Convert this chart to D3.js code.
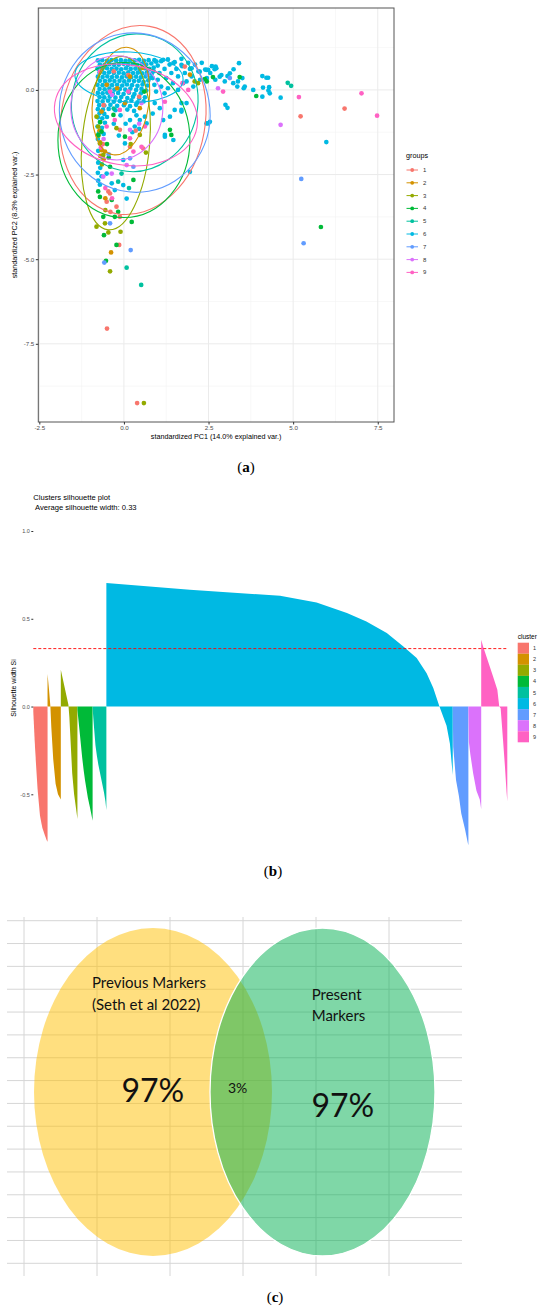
<!DOCTYPE html>
<html>
<head>
<meta charset="utf-8">
<script src="https://cdn.jsdelivr.net/npm/d3@7"></script>
<style>
body { margin: 0; background: #fff; }
svg { display: block; }
</style>
</head>
<body>
<div id="chart"></div>
<script>
// ---- data: (a) PCA biplot ----
var group_labels = ["1", "2", "3", "4", "5", "6", "7", "8", "9"];
var group_colors = ["#F8766D", "#D39200", "#93AA00", "#00BA38", "#00C19F", "#00B9E3", "#619CFF", "#DB72FB", "#FF61C3"];

var pc1_ticks = [-2.5, 0, 2.5, 5, 7.5];
var pc2_ticks = [0, -2.5, -5, -7.5];
var pc1_minor = [-1.25, 1.25, 3.75, 6.25];
var pc2_minor = [1.25, -1.25, -3.75, -6.25, -8.75];

// scores [PC1, PC2], one list per group
var scores_1 = [[0.13,0.44],[-0.12,-1.18],[0.18,-1.68],[0.57,-1.73],[-0.46,-3.0],[-0.41,-3.06],[-0.51,-3.3],[-0.22,-3.45],
    [-0.12,-3.75],[1.80,0.69],[5.22,-0.78],[6.52,-0.55],[-0.14,-4.58],[-0.50,-7.05],[0.39,-9.25],[-0.60,-0.45],
    [-0.30,0.55],[0.45,-0.2],[-0.62,-1.6],[-0.40,-3.6],[0.35,-1.2]];
var scores_2 = [[-0.51,0.15],[-0.66,-0.64],[-0.66,-1.78],[-0.56,-1.82],[0.03,-0.39],[0.47,-0.54],[0.18,0.39],[-0.38,-4.8],
    [-0.70,-1.95],[-0.60,-2.05],[-0.72,-1.2],[0.55,0.65],[1.95,0.45],[-0.20,0.05],[-0.70,-1.55],[-0.55,-3.2]];
var scores_3 = [[-0.81,-0.79],[-0.76,-1.08],[-0.71,-1.58],[-0.61,-1.92],[-0.22,-1.13],[0.47,-1.33],[-0.81,-4.04],
    [-0.46,-4.21],[-0.10,-4.19],[-0.56,-3.94],[-0.41,-5.36],[0.59,-9.25],[2.09,0.25],[2.19,0.20],[-0.65,-2.2],
    [-0.75,-1.35],[0.20,-1.6],[0.65,-1.85],[-0.55,-3.55]];
var scores_4 = [[-0.76,-1.33],[-0.66,-1.23],[-0.31,-0.74],[0.03,-1.38],[1.36,-1.18],[1.40,-1.33],[-0.41,-2.27],[-0.76,-3.0],
    [-0.71,-3.16],[-0.36,-3.25],[-0.17,-3.6],[-0.61,-3.75],[0.23,-3.9],[-0.27,-3.75],[-0.59,-4.29],[-0.22,-4.58],
    [-0.53,-5.05],[5.82,-4.05],[3.42,0.38],[2.39,0.32],[2.45,0.25],[2.63,0.38],[3.91,-0.18],[-0.70,-0.95],
    [-0.50,-1.60],[0.60,-0.05],[-0.45,-2.0],[0.28,-2.66]];
var scores_5 = [[-0.17,-2.71],[-0.07,-2.47],[0.08,-5.25],[0.51,-5.76],[4.84,0.21],[4.94,0.12],[0.15,-2.9],[-0.30,-0.55]];
var scores_6 = [
    [-0.77,0.87],[-0.64,0.88],[-0.50,0.86],[-0.37,0.88],[-0.23,0.87],[-0.09,0.88],[0.05,0.86],[0.18,0.88],[0.32,0.87],[0.45,0.89],[0.59,0.86],[0.73,0.88],
    [-0.71,0.75],[-0.57,0.74],[-0.43,0.76],[-0.29,0.74],[-0.15,0.75],[-0.01,0.77],[0.12,0.74],[0.26,0.76],[0.39,0.74],[0.53,0.77],[0.66,0.75],[0.81,0.78],[0.94,0.84],
    [-0.78,0.63],[-0.64,0.62],[-0.50,0.64],[-0.36,0.62],[-0.22,0.63],[-0.08,0.61],[0.06,0.64],[0.20,0.62],[0.34,0.63],[0.47,0.61],[0.61,0.64],[0.75,0.62],[0.88,0.66],
    [-0.72,0.51],[-0.58,0.50],[-0.44,0.52],[-0.30,0.50],[-0.15,0.51],[-0.01,0.49],[0.13,0.52],[0.27,0.50],[0.41,0.51],[0.54,0.49],[0.68,0.52],[0.82,0.48],
    [-0.77,0.39],[-0.63,0.38],[-0.49,0.40],[-0.35,0.38],[-0.21,0.39],[-0.06,0.37],[0.08,0.40],[0.22,0.38],[0.36,0.39],[0.50,0.37],[0.64,0.40],[0.79,0.36],
    [-0.71,0.27],[-0.56,0.26],[-0.42,0.28],[-0.28,0.26],[-0.13,0.27],[0.01,0.25],[0.15,0.28],[0.30,0.26],[0.44,0.27],[0.58,0.24],[0.72,0.28],
    [-0.78,0.15],[-0.63,0.14],[-0.49,0.16],[-0.35,0.14],[-0.20,0.15],[-0.05,0.13],[0.09,0.16],[0.24,0.14],[0.40,0.12],[0.55,0.16],[0.70,0.13],
    [-0.72,0.03],[-0.57,0.02],[-0.43,0.04],[-0.28,0.01],[-0.12,0.03],[0.04,0.01],[0.19,0.04],[0.36,0.0],[0.52,0.03],[0.66,-0.02],
    [-0.77,-0.09],[-0.63,-0.10],[-0.49,-0.08],[-0.33,-0.11],[-0.17,-0.09],[-0.01,-0.12],[0.15,-0.08],[0.31,-0.12],[0.50,-0.10],
    [-0.72,-0.21],[-0.58,-0.22],[-0.42,-0.20],[-0.25,-0.23],[-0.08,-0.21],[0.10,-0.24],[0.27,-0.20],[0.45,-0.25],[0.62,-0.22],
    [-0.78,-0.33],[-0.63,-0.34],[-0.47,-0.32],[-0.30,-0.35],[-0.12,-0.33],[0.05,-0.36],[0.22,-0.31],[0.40,-0.37],[0.58,-0.34],
    [-0.73,-0.45],[-0.58,-0.46],[-0.40,-0.44],[-0.20,-0.47],[0.0,-0.45],[0.18,-0.48],[0.36,-0.44],
    [-0.77,-0.57],[-0.62,-0.58],[-0.45,-0.56],[-0.25,-0.60],[0.10,-0.58],[0.30,-0.62],
    [-0.72,-0.69],[-0.58,-0.71],[-0.77,-0.81],[-0.64,-0.84],[-0.50,-0.80],[-0.71,-0.95],[-0.56,-0.97],[-0.78,-1.08],
    [-0.65,-1.12],[-0.73,-1.26],[-0.60,-1.30],[-0.77,-1.45],[-0.68,-1.62],[-0.76,-1.80],[-0.64,-1.98],[-0.76,-2.15],
    [-0.70,-2.30],[-0.77,-2.45],[-0.66,-2.55],[-0.76,-2.68],[-0.71,-2.80],
    [0.18,-0.89],[0.32,-1.08],[0.47,-0.89],[0.67,-0.99],[0.62,-0.79],[0.37,-0.75],[0.85,-0.70],[1.16,-0.89],[1.36,-0.79],
    [1.21,-1.33],[1.50,-0.59],[1.70,-0.59],[1.85,-0.39],[1.95,-2.42],[2.44,-0.99],[2.54,-0.94],[0.91,-0.39],[1.06,-0.54],
    [0.03,-1.58],[-0.02,-2.07],[-0.51,-2.47],[-0.36,-2.76],[-0.02,-2.81],[-0.27,-2.96],[0.08,-3.21],[1.21,-1.38],
    [1.46,-1.48],[1.70,-0.39],[1.70,-0.64],[-0.10,-0.75],[0.05,-1.0],[0.25,-1.25],[0.45,-1.15],[-0.30,-1.0],[-0.15,-1.35],
    [0.90,0.88],[1.00,0.72],[1.05,0.50],[1.10,0.85],[1.20,0.62],[1.25,0.35],[1.30,0.90],[1.35,0.75],[1.40,0.50],[1.45,0.20],
    [1.50,0.82],[1.55,0.62],[1.60,0.40],[1.70,0.92],[1.72,0.70],[1.80,0.50],[1.85,0.25],[1.90,0.80],[1.95,0.62],[2.00,0.40],
    [2.05,0.10],[2.10,0.75],[2.20,0.55],[2.25,0.30],[2.30,0.80],[2.40,0.60],[2.45,0.35],[2.55,0.50],[2.60,0.70],[2.70,0.30],
    [0.85,0.35],[0.90,0.15],[0.95,-0.05],[1.10,0.10],[1.20,-0.10],[0.88,0.55],[1.00,0.30],[1.30,0.05],[1.60,0.00],[1.75,0.20],
    [0.96,0.84],[1.16,0.89],[1.46,0.79],[1.70,0.74],[2.00,0.64],[2.24,0.54],[2.49,0.59],[2.73,0.64],[2.83,0.39],[3.13,0.49],
    [3.23,0.20],[3.57,0.10],[3.82,0.0],
    [2.71,0.69],[2.68,0.61],[2.44,0.59],[3.40,0.79],[3.24,0.61],[2.88,0.44],[3.06,0.41],[2.98,0.25],[3.37,0.25],[3.50,0.35],
    [3.54,0.05],[3.35,0.10],[3.00,-0.44],[3.06,-0.53],[2.49,-0.99],[4.09,0.41],[4.21,0.36],[4.26,0.36],[4.11,0.07],
    [4.27,-0.02],[4.31,-0.10],[4.29,0.08],[4.09,-0.20],[4.63,-0.23],[5.98,-1.54]];
var scores_7 = [[-0.41,-3.94],[0.18,-2.02],[0.28,-2.27],[0.20,-4.73],[-0.58,-5.10],[5.24,-2.63],[5.31,-4.53],[3.13,0.35],
    [-0.45,-1.9],[0.70,0.45]];
var scores_8 = [[0.18,-1.18],[0.52,-0.39],[-0.61,-2.56],[-0.36,-2.47],[0.08,-2.22],[4.63,-1.03],[2.78,0.05],[-0.35,-0.15],
    [-0.60,-1.45],[0.45,-1.0]];
var scores_9 = [[-0.71,0.54],[-0.41,-0.05],[0.13,-0.05],[-0.12,-0.59],[-0.27,-0.89],[0.18,-1.43],[0.28,-1.82],[0.52,-1.68],
    [0.62,-1.08],[1.21,-0.35],[-0.51,-1.08],[5.17,-0.21],[7.02,-0.10],[7.48,-0.76],[1.90,0.0],[1.73,0.20],[2.93,-0.05],
    [-0.68,-1.7],[-0.35,-3.2],[-0.55,-2.9]];
var group_scores = [scores_1, scores_2, scores_3, scores_4, scores_5, scores_6, scores_7, scores_8, scores_9];

// normal ellipses per group: [centre PC1, centre PC2, semi-axis PC1, semi-axis PC2, tilt in degrees]
var group_ellipses = [
    [0.27, -0.89, 2.13, 2.81, 10],
    [-0.09, -0.33, 0.83, 1.60, 8],
    [-0.24, -1.57, 1.00, 2.57, 5],
    [0.00, -1.48, 1.95, 2.29, 0],
    [0.32, -0.38, 1.86, 2.04, 12],
    [0.15, 0.38, 1.60, 0.74, 3],
    [0.32, -0.67, 2.22, 2.36, -10],
    [-0.21, -0.53, 1.36, 1.54, 0],
    [0.06, -0.74, 2.13, 1.48, 10]
];

// ---- data: (b) silhouette ----
var cluster_sizes = [30, 28, 35, 32, 29, 730, 33, 27, 55];
// sorted silhouette widths within each cluster: [rank, width]
var sil_1 = [[0,-0.03],[3,-0.2],[6,-0.34],[9,-0.47],[14,-0.62],[19,-0.69],[24,-0.73],[28,-0.76],[30,-0.77]];
var sil_2 = [[0,0.185],[3,0.1],[6,0.0],[8,-0.12],[12,-0.3],[17,-0.44],[22,-0.5],[28,-0.53]];
var sil_3 = [[0,0.21],[4,0.16],[8,0.11],[12,0.06],[16,0.01],[18,-0.06],[21,-0.22],[24,-0.38],[28,-0.5],[32,-0.58],[35,-0.64]];
var sil_4 = [[0,-0.02],[3,-0.1],[6,-0.18],[10,-0.29],[13,-0.36],[16,-0.42],[19,-0.47],[22,-0.52],[26,-0.57],[29,-0.61],[32,-0.65]];
var sil_5 = [[0,-0.01],[3,-0.12],[6,-0.22],[9,-0.28],[12,-0.33],[15,-0.37],[18,-0.41],[21,-0.45],[24,-0.49],[27,-0.54],[29,-0.59]];
var sil_6 = [[0,0.704],[176,0.666],[366,0.631],[443,0.593],[507,0.533],[548,0.485],[591,0.419],[626,0.342],[654,0.276],
    [675,0.19],[689,0.105],[702,0],[717,-0.11],[724,-0.21],[730,-0.39]];
var sil_7 = [[0,0.01],[1,-0.23],[7,-0.42],[13,-0.51],[18,-0.61],[26,-0.70],[32,-0.78],[33,-0.79]];
var sil_8 = [[0,-0.02],[1,-0.2],[4,-0.27],[10,-0.38],[17,-0.48],[24,-0.53],[27,-0.585]];
var sil_9 = [[0,0.38],[4,0.342],[11,0.285],[25,0.171],[34,0.095],[38,0.0],[41,-0.01],[46,-0.19],[50,-0.34],[53.5,-0.49],[55,-0.54]];
var sil_profiles = [sil_1, sil_2, sil_3, sil_4, sil_5, sil_6, sil_7, sil_8, sil_9];
var sil_average = 0.33;
var sil_ticks = [-0.5, 0, 0.5, 1.0];

// ---- data: (c) Venn ----
var venn_sets = [["Previous Markers", "(Seth et al 2022)"], ["Present", "Markers"]];
var venn_shares = ["97%", "3%", "97%"];


var utils = (function () {
    return {
        create_svg: function (placement, width, height) {
            return d3.select(placement).append("svg")
                .attr("width", width)
                .attr("height", height);
        },
        fmt: function (d) {
            return d.toFixed(1);
        },
        panel_label: function (svg, x, y, letter) {
            var t = svg.append("text")
                .attr("x", x).attr("y", y)
                .attr("text-anchor", "middle")
                .style("font-family", "'Liberation Serif', serif")
                .style("font-size", "15px");
            t.append("tspan").text("(");
            t.append("tspan").style("font-weight", "bold").text(letter);
            t.append("tspan").text(")");
        }
    }
})();

var pca_plot = (function () {
    return {
        draw: function (svg) {
            var left = 38.3, right = 394, top = 8, bottom = 422;
            var x = d3.scaleLinear().domain([-2.53, 7.98]).range([left, right]);
            var y = d3.scaleLinear().domain([2.42, -9.81]).range([top, bottom]);
            var g = svg.append("g");

            g.selectAll(".minor-x").data(pc1_minor).enter().append("line")
                .attr("x1", function (d) { return x(d); }).attr("x2", function (d) { return x(d); })
                .attr("y1", top).attr("y2", bottom)
                .style("stroke", "#f3f3f3").style("stroke-width", 0.6);
            g.selectAll(".minor-y").data(pc2_minor).enter().append("line")
                .attr("y1", function (d) { return y(d); }).attr("y2", function (d) { return y(d); })
                .attr("x1", left).attr("x2", right)
                .style("stroke", "#f3f3f3").style("stroke-width", 0.6);
            g.selectAll(".major-x").data(pc1_ticks).enter().append("line")
                .attr("x1", function (d) { return x(d); }).attr("x2", function (d) { return x(d); })
                .attr("y1", top).attr("y2", bottom)
                .style("stroke", "#ebebeb").style("stroke-width", 1);
            g.selectAll(".major-y").data(pc2_ticks).enter().append("line")
                .attr("y1", function (d) { return y(d); }).attr("y2", function (d) { return y(d); })
                .attr("x1", left).attr("x2", right)
                .style("stroke", "#ebebeb").style("stroke-width", 1);

            // cyan group first, the small groups on top of it
            var order = [5, 0, 1, 2, 3, 4, 6, 7, 8];
            order.forEach(function (i) {
                g.append("g").selectAll("circle")
                    .data(group_scores[i])
                    .enter().append("circle")
                    .attr("cx", function (d) { return x(d[0]); })
                    .attr("cy", function (d) { return y(d[1]); })
                    .attr("r", 2.35)
                    .style("fill", group_colors[i]);
            });

            var kx = x(1) - x(0), ky = y(0) - y(1);
            g.selectAll("ellipse").data(group_ellipses).enter().append("ellipse")
                .attr("cx", 0).attr("cy", 0)
                .attr("rx", function (d) { return d[2] * kx; })
                .attr("ry", function (d) { return d[3] * ky; })
                .attr("transform", function (d) {
                    return "translate(" + x(d[0]) + "," + y(d[1]) + ") rotate(" + d[4] + ")";
                })
                .style("fill", "none")
                .style("stroke", function (d, i) { return group_colors[i]; })
                .style("stroke-width", 1.1);

            g.append("rect")
                .attr("x", left).attr("y", top)
                .attr("width", right - left).attr("height", bottom - top)
                .style("fill", "none").style("stroke", "#555").style("stroke-width", 1);

            var xa = g.append("g").attr("transform", "translate(0," + bottom + ")")
                .call(d3.axisBottom(x).tickValues(pc1_ticks).tickSize(2.5).tickPadding(1.5).tickFormat(utils.fmt));
            var ya = g.append("g").attr("transform", "translate(" + left + ",0)")
                .call(d3.axisLeft(y).tickValues(pc2_ticks).tickSize(2.5).tickPadding(1.5).tickFormat(utils.fmt));
            [xa, ya].forEach(function (a) {
                a.select(".domain").remove();
                a.selectAll("line").style("stroke", "#333");
                a.selectAll("text").style("font-family", "'Liberation Sans', Arial, sans-serif")
                    .style("font-size", "6.2px").style("fill", "#4d4d4d");
            });

            g.append("text")
                .attr("x", (left + right) / 2).attr("y", 439)
                .attr("text-anchor", "middle")
                .style("font-family", "'Liberation Sans', Arial, sans-serif").style("font-size", "7.2px")
                .text("standardized PC1 (14.0% explained var.)");
            g.append("text")
                .attr("transform", "translate(17," + (top + bottom) / 2 + ") rotate(-90)")
                .attr("text-anchor", "middle")
                .style("font-family", "'Liberation Sans', Arial, sans-serif").style("font-size", "7.2px")
                .text("standardized PC2 (8.3% explained var.)");

            // legend
            var lg = svg.append("g");
            lg.append("text").attr("x", 406).attr("y", 158)
                .style("font-family", "'Liberation Sans', Arial, sans-serif").style("font-size", "7.2px")
                .text("groups");
            var ly = d3.scaleBand().domain(group_labels).range([163.6, 278.8]);
            var item = lg.selectAll(".key").data(group_labels).enter().append("g")
                .attr("transform", function (d) { return "translate(0," + (ly(d) + ly.bandwidth() / 2) + ")"; });
            item.append("line").attr("x1", 406.5).attr("x2", 418).attr("y1", 0).attr("y2", 0)
                .style("stroke", function (d, i) { return group_colors[i]; }).style("stroke-width", 1);
            item.append("circle").attr("cx", 412.2).attr("cy", 0).attr("r", 1.9)
                .style("fill", function (d, i) { return group_colors[i]; });
            item.append("text").attr("x", 423).attr("y", 2)
                .style("font-family", "'Liberation Sans', Arial, sans-serif").style("font-size", "6px")
                .style("fill", "#333")
                .text(function (d) { return d; });

            utils.panel_label(svg, 246, 472, "a");
        }
    }
})();

var silhouette_plot = (function () {
    return {
        draw: function (svg) {
            var left = 33.3, right = 507.3;
            var x = d3.scaleLinear().domain([0, d3.sum(cluster_sizes)]).range([left, right]);
            var y = d3.scaleLinear().domain([-0.5, 1.0]).range([794.3, 531]);
            var g = svg.append("g");
            var offsets = [];
            cluster_sizes.reduce(function (acc, n) { offsets.push(acc); return acc + n; }, 0);

            sil_profiles.forEach(function (prof, i) {
                var area = d3.area()
                    .x(function (d) { return x(offsets[i] + d[0]); })
                    .y0(y(0))
                    .y1(function (d) { return y(d[1]); });
                g.append("path").datum(prof)
                    .attr("d", area)
                    .style("fill", group_colors[i]);
            });

            g.append("line")
                .attr("x1", left).attr("x2", right)
                .attr("y1", y(sil_average)).attr("y2", y(sil_average))
                .style("stroke", "#ff0000").style("stroke-width", 0.9)
                .style("stroke-dasharray", "3,2");

            var ya = g.append("g").attr("transform", "translate(" + left + ",0)")
                .call(d3.axisLeft(y).tickValues(sil_ticks).tickSize(2).tickPadding(1.5).tickFormat(utils.fmt));
            ya.select(".domain").remove();
            ya.selectAll("line").style("stroke", "#333");
            ya.selectAll("text").style("font-family", "'Liberation Sans', Arial, sans-serif")
                .style("font-size", "5.5px").style("fill", "#4d4d4d");

            g.append("text")
                .attr("transform", "translate(15.5,688) rotate(-90)")
                .attr("text-anchor", "middle")
                .style("font-family", "'Liberation Sans', Arial, sans-serif").style("font-size", "7px")
                .text("Silhouette width Si");

            g.append("text").attr("x", 33.3).attr("y", 500)
                .style("font-family", "'Liberation Sans', Arial, sans-serif").style("font-size", "7.6px")
                .text("Clusters silhouette plot");
            g.append("text").attr("x", 33.3).attr("y", 509.5)
                .attr("xml:space", "preserve")
                .style("white-space", "pre")
                .style("font-family", "'Liberation Sans', Arial, sans-serif").style("font-size", "7.6px")
                .text(" Average silhouette width: " + sil_average.toFixed(2));

            // legend
            var lg = svg.append("g");
            lg.append("text").attr("x", 517.7).attr("y", 639)
                .style("font-family", "'Liberation Sans', Arial, sans-serif").style("font-size", "6.5px")
                .text("cluster");
            var ly = d3.scaleBand().domain(group_labels).range([642.7, 742.3]);
            lg.selectAll("rect").data(group_labels).enter().append("rect")
                .attr("x", 517.7).attr("y", function (d) { return ly(d); })
                .attr("width", 11.3).attr("height", ly.bandwidth())
                .style("fill", function (d, i) { return group_colors[i]; });
            lg.selectAll(".lab").data(group_labels).enter().append("text")
                .attr("x", 533).attr("y", function (d) { return ly(d) + ly.bandwidth() / 2 + 2; })
                .style("font-family", "'Liberation Sans', Arial, sans-serif").style("font-size", "5.5px")
                .style("fill", "#333")
                .text(function (d) { return d; });

            utils.panel_label(svg, 273, 876, "b");
        }
    }
})();

var venn_plot = (function () {
    return {
        draw: function (svg) {
            var g = svg.append("g");
            var rows = d3.scaleLinear().domain([0, 15]).range([920.7, 1263.3]);
            var cols = d3.scaleLinear().domain([0, 5]).range([24, 389]);

            g.selectAll(".row").data(d3.range(16)).enter().append("line")
                .attr("x1", 7).attr("x2", 462)
                .attr("y1", function (d) { return rows(d); }).attr("y2", function (d) { return rows(d); })
                .style("stroke", "#d6d6d6").style("stroke-width", 1);
            g.selectAll(".col").data(d3.range(6)).enter().append("line")
                .attr("x1", function (d) { return cols(d); }).attr("x2", function (d) { return cols(d); })
                .attr("y1", 917).attr("y2", 1276)
                .style("stroke", "#d6d6d6").style("stroke-width", 1);

            g.append("ellipse")
                .attr("cx", 153).attr("cy", 1092).attr("rx", 119).attr("ry", 164)
                .style("fill", "#FFC000").style("fill-opacity", 0.5);
            g.append("ellipse")
                .attr("cx", 322.5).attr("cy", 1092).attr("rx", 112.5).attr("ry", 164)
                .style("fill", "#00B050").style("fill-opacity", 0.5)
                .style("stroke", "#fff").style("stroke-width", 1.3);

            var font = "Lato, 'Open Sans', sans-serif";
            g.selectAll(".set-a").data(venn_sets[0]).enter().append("text")
                .attr("x", 92).attr("y", function (d, i) { return 988 + i * 22; })
                .style("font-family", font).style("font-size", "15px").style("fill", "#111")
                .text(function (d) { return d; });
            g.selectAll(".set-b").data(venn_sets[1]).enter().append("text")
                .attr("x", 311.7).attr("y", function (d, i) { return 1000 + i * 21; })
                .style("font-family", font).style("font-size", "15px").style("fill", "#111")
                .text(function (d) { return d; });

            g.append("text").attr("x", 121.5).attr("y", 1102)
                .style("font-family", font).style("font-size", "32px").style("fill", "#111")
                .text(venn_shares[0]);
            g.append("text").attr("x", 228).attr("y", 1093)
                .style("font-family", font).style("font-size", "14px").style("fill", "#111")
                .text(venn_shares[1]);
            g.append("text").attr("x", 311.5).attr("y", 1117)
                .style("font-family", font).style("font-size", "32px").style("fill", "#111")
                .text(venn_shares[2]);

            utils.panel_label(svg, 275, 1302, "c");
        }
    }
})();

var svg = utils.create_svg("#chart", 550, 1313);
pca_plot.draw(svg);
silhouette_plot.draw(svg);
venn_plot.draw(svg);
</script>
</body>
</html>
